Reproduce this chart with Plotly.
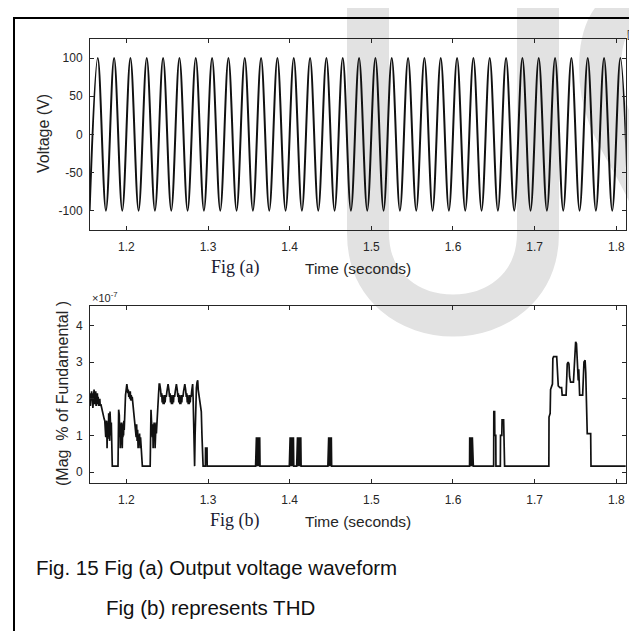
import plotly.graph_objects as go

W, H = 637, 631

# ---------------- data ----------------
# Fig (a): output voltage -- successive troughs / peaks of the waveform (s, V)
wave_t = [1.155, 1.165, 1.175, 1.185, 1.195, 1.205, 1.215, 1.225, 1.235, 1.245,
          1.255, 1.265, 1.275, 1.285, 1.295, 1.305, 1.315, 1.325, 1.335, 1.345,
          1.355, 1.365, 1.375, 1.385, 1.395, 1.405, 1.415, 1.425, 1.435, 1.445,
          1.455, 1.465, 1.475, 1.485, 1.495, 1.505, 1.515, 1.525, 1.535, 1.545,
          1.555, 1.565, 1.575, 1.585, 1.595, 1.605, 1.615, 1.625, 1.635, 1.645,
          1.655, 1.665, 1.675, 1.685, 1.695, 1.705, 1.715, 1.725, 1.735, 1.745,
          1.755, 1.765, 1.775, 1.785, 1.795, 1.805, 1.815]
wave_v = [-100, 100, -100, 100, -100, 100, -100, 100, -100, 100,
          -100, 100, -100, 100, -100, 100, -100, 100, -100, 100,
          -100, 100, -100, 100, -100, 100, -100, 100, -100, 100,
          -100, 100, -100, 100, -100, 100, -100, 100, -100, 100,
          -100, 100, -100, 100, -100, 100, -100, 100, -100, 100,
          -100, 100, -100, 100, -100, 100, -100, 100, -100, 100,
          -100, 100, -100, 100, -100, 100, -100]

# Fig (b): THD (time s, magnitude x1e-7 % of fundamental)
thd_samples = [
    (1.1550, 1.95), (1.1555, 2.15), (1.1560, 1.80), (1.1565, 2.10), (1.1570, 1.85),
    (1.1575, 2.20), (1.1580, 1.95), (1.1585, 2.15), (1.1590, 1.75), (1.1595, 2.05),
    (1.1600, 1.90), (1.1605, 2.25), (1.1610, 1.85), (1.1615, 2.15), (1.1620, 1.95),
    (1.1625, 2.20), (1.1630, 1.80), (1.1635, 2.10), (1.1640, 1.90), (1.1645, 2.15),
    (1.1650, 1.85), (1.1655, 2.05), (1.1660, 1.80), (1.1665, 2.00), (1.1670, 1.85),
    (1.1675, 2.00), (1.1680, 1.80), (1.1688, 1.85), (1.1696, 1.75), (1.1704, 1.70),
    (1.1712, 1.60), (1.1720, 1.50), (1.1728, 1.45), (1.1736, 1.40),
    (1.1740, 1.05), (1.1744, 1.35), (1.1748, 0.95), (1.1752, 1.30), (1.1756, 0.85),
    (1.1760, 1.40), (1.1764, 0.65), (1.1768, 1.20), (1.1772, 0.90), (1.1776, 1.35),
    (1.1780, 0.95), (1.1784, 1.60), (1.1788, 1.00), (1.1792, 1.45), (1.1796, 0.85),
    (1.1800, 1.65), (1.1804, 1.10), (1.1808, 1.45), (1.1812, 1.00), (1.1816, 1.35),
    (1.1820, 0.95), (1.1824, 0.50), (1.1828, 0.16),
    (1.1898, 0.16),
    (1.1902, 0.95), (1.1906, 1.70), (1.1910, 1.25), (1.1914, 1.55), (1.1918, 0.95),
    (1.1922, 1.30), (1.1926, 0.65), (1.1930, 1.20), (1.1934, 0.95), (1.1938, 1.35),
    (1.1942, 0.75), (1.1946, 1.30), (1.1950, 0.65), (1.1954, 1.10), (1.1958, 0.95),
    (1.1962, 1.35), (1.1966, 1.00), (1.1970, 1.40), (1.1974, 1.15), (1.1978, 1.45),
    (1.1984, 1.90), (1.1990, 2.10), (1.1998, 2.25), (1.2006, 2.40), (1.2012, 2.30),
    (1.2018, 2.15), (1.2024, 2.25), (1.2030, 2.05), (1.2036, 2.20), (1.2042, 2.00),
    (1.2048, 2.20), (1.2054, 1.95), (1.2060, 2.10), (1.2066, 1.95), (1.2072, 2.05),
    (1.2080, 1.85), (1.2088, 1.70), (1.2096, 1.50), (1.2104, 1.35), (1.2112, 1.15),
    (1.2120, 0.95), (1.2126, 1.30), (1.2132, 0.85), (1.2138, 1.15), (1.2144, 0.65),
    (1.2150, 1.00), (1.2156, 0.75), (1.2162, 1.05), (1.2168, 0.65), (1.2174, 0.95),
    (1.2180, 0.70), (1.2188, 0.40), (1.2196, 0.16),
    (1.2292, 0.16),
    (1.2296, 0.95), (1.2302, 1.70), (1.2308, 1.40), (1.2312, 1.20), (1.2316, 1.35),
    (1.2320, 0.95), (1.2324, 1.30), (1.2328, 0.65), (1.2332, 1.10), (1.2336, 0.95),
    (1.2340, 1.35), (1.2344, 0.85), (1.2348, 1.30), (1.2352, 0.65), (1.2356, 1.15),
    (1.2360, 0.95), (1.2364, 1.35), (1.2368, 1.05), (1.2372, 1.30), (1.2378, 1.60),
    (1.2386, 1.95), (1.2394, 2.10), (1.2402, 2.40),
    (1.2409, 2.40), (1.2419, 2.25), (1.2427, 2.05), (1.2433, 2.15), (1.2439, 1.90),
    (1.2445, 2.10), (1.2451, 1.85), (1.2457, 2.05), (1.2463, 1.85), (1.2469, 2.10),
    (1.2475, 1.90), (1.2481, 2.10), (1.2489, 2.05), (1.2497, 2.20), (1.2505, 2.30),
    (1.2511, 2.40), (1.2521, 2.25), (1.2529, 2.05), (1.2535, 2.15), (1.2541, 1.90),
    (1.2547, 2.10), (1.2553, 1.85), (1.2559, 2.05), (1.2565, 1.85), (1.2571, 2.10),
    (1.2577, 1.90), (1.2583, 2.10), (1.2591, 2.05), (1.2599, 2.20), (1.2607, 2.30),
    (1.2613, 2.40), (1.2623, 2.25), (1.2631, 2.05), (1.2637, 2.15), (1.2643, 1.90),
    (1.2649, 2.10), (1.2655, 1.85), (1.2661, 2.05), (1.2667, 1.85), (1.2673, 2.10),
    (1.2679, 1.90), (1.2685, 2.10), (1.2693, 2.05), (1.2701, 2.20), (1.2709, 2.30),
    (1.2716, 2.40), (1.2726, 2.25), (1.2734, 2.05), (1.2740, 2.15), (1.2746, 1.90),
    (1.2752, 2.10), (1.2758, 1.85), (1.2764, 2.05), (1.2770, 1.85), (1.2776, 2.10),
    (1.2782, 1.90), (1.2788, 2.10), (1.2794, 2.05), (1.2800, 2.20), (1.2806, 2.30),
    (1.2812, 2.40), (1.2818, 2.00), (1.2824, 1.20), (1.2830, 0.60), (1.2836, 0.16),
    (1.2842, 1.00), (1.2850, 2.00), (1.2858, 2.30), (1.2866, 2.45), (1.2874, 2.50),
    (1.2880, 2.25), (1.2890, 2.10), (1.2900, 1.95), (1.2910, 1.70), (1.2918, 1.65),
    (1.2926, 1.00), (1.2934, 0.40), (1.2940, 0.16), (1.2968, 0.16), (1.2970, 0.65),
    (1.2988, 0.65), (1.2990, 0.16),
    (1.3583, 0.16), (1.3585, 0.95), (1.3589, 0.16), (1.3593, 0.95), (1.3597, 0.16),
    (1.3601, 0.95), (1.3605, 0.16), (1.3609, 0.95), (1.3613, 0.16), (1.3617, 0.95),
    (1.3621, 0.16), (1.3625, 0.95), (1.3629, 0.16), (1.3633, 0.95), (1.3637, 0.16),
    (1.3996, 0.16), (1.3998, 0.95), (1.4002, 0.16), (1.4006, 0.95), (1.4010, 0.16),
    (1.4014, 0.95), (1.4018, 0.16), (1.4022, 0.95), (1.4026, 0.16), (1.4030, 0.95),
    (1.4034, 0.16), (1.4038, 0.95), (1.4042, 0.16), (1.4046, 0.95), (1.4050, 0.16),
    (1.4086, 0.16), (1.4088, 0.95), (1.4092, 0.16), (1.4096, 0.95), (1.4100, 0.16),
    (1.4104, 0.95), (1.4108, 0.16), (1.4112, 0.95), (1.4116, 0.16), (1.4120, 0.95),
    (1.4124, 0.16), (1.4128, 0.95), (1.4132, 0.16), (1.4136, 0.95), (1.4140, 0.16),
    (1.4468, 0.16), (1.4470, 0.95), (1.4474, 0.16), (1.4478, 0.95), (1.4482, 0.16),
    (1.4486, 0.95), (1.4490, 0.16), (1.4494, 0.95), (1.4498, 0.16), (1.4502, 0.95),
    (1.4506, 0.16), (1.4510, 0.95), (1.4514, 0.16),
    (1.6203, 0.16), (1.6205, 0.95), (1.6209, 0.16), (1.6213, 0.95), (1.6217, 0.16),
    (1.6221, 0.95), (1.6225, 0.16), (1.6229, 0.95), (1.6233, 0.16), (1.6237, 0.95),
    (1.6241, 0.16), (1.6245, 0.95), (1.6249, 0.16),
    (1.6498, 0.16), (1.6500, 1.65), (1.6510, 1.65), (1.6512, 1.00), (1.6524, 1.00),
    (1.6526, 0.16),
    (1.6580, 0.16), (1.6582, 1.00), (1.6598, 1.00), (1.6601, 1.42), (1.6620, 1.42),
    (1.6624, 0.80), (1.6632, 0.16),
    (1.7174, 0.16), (1.7176, 1.50), (1.7190, 1.60), (1.7195, 2.25), (1.7210, 2.35),
    (1.7218, 2.40), (1.7223, 3.10), (1.7232, 3.15), (1.7270, 3.15), (1.7280, 2.80),
    (1.7289, 2.35), (1.7310, 2.30), (1.7330, 2.30), (1.7337, 2.10), (1.7385, 2.10),
    (1.7392, 2.50), (1.7399, 2.95), (1.7410, 3.00), (1.7420, 2.95), (1.7428, 2.60),
    (1.7440, 2.45), (1.7475, 2.45), (1.7485, 2.80), (1.7495, 3.20), (1.7502, 3.55),
    (1.7512, 3.50), (1.7521, 3.10), (1.7528, 2.60), (1.7534, 2.50), (1.7540, 2.80),
    (1.7546, 2.30), (1.7551, 2.10), (1.7588, 2.10), (1.7596, 2.60), (1.7604, 3.00),
    (1.7618, 3.05), (1.7626, 2.70), (1.7634, 1.95), (1.7644, 1.05), (1.7686, 1.05),
    (1.7690, 0.16), (1.8150, 0.16),
]
thd_t = [p[0] for p in thd_samples]
thd_v = [p[1] for p in thd_samples]

x_ticks = [1.2, 1.3, 1.4, 1.5, 1.6, 1.7, 1.8]
x_ticklabels = ["1.2", "1.3", "1.4", "1.5", "1.6", "1.7", "1.8"]
v_ticks = [-100, -50, 0, 50, 100]
v_ticklabels = ["-100", "-50", "0", "50", "100"]
thd_ticks = [0, 1, 2, 3, 4]
thd_ticklabels = ["0", "1", "2", "3", "4"]

# ---------------- helpers (pixel -> paper) ----------------
def PX(x):
    return x / W


def PY(y):
    return 1 - y / H


AX = "#262626"
TICKFONT = dict(family="Liberation Sans Narrow, Arial Narrow, Liberation Sans, Arial", size=12, color=AX)
LABFONT = dict(family="Liberation Sans, Arial", size=16, color=AX)

fig = go.Figure()
fig.add_trace(go.Scatter(x=wave_t, y=wave_v, mode="lines", line=dict(color="#111111", width=2, shape="spline"),
                         xaxis="x", yaxis="y", showlegend=False, hoverinfo="skip"))
fig.add_trace(go.Scatter(x=thd_t, y=thd_v, mode="lines", line=dict(color="#111111", width=1.7),
                         xaxis="x2", yaxis="y2", showlegend=False, hoverinfo="skip"))

x_dom = [PX(82), PX(617.7)]
common_x = dict(domain=x_dom, range=[1.1555, 1.8115], tickmode="array", tickvals=x_ticks, ticktext=x_ticklabels,
                ticks="inside", ticklen=4, tickwidth=1, tickcolor=AX, mirror="allticks", showline=True,
                linecolor=AX, linewidth=1, showgrid=False, zeroline=False, tickfont=TICKFONT,
                ticklabelstandoff=6)
common_y = dict(ticks="inside", ticklen=4, tickwidth=1, tickcolor=AX, mirror="allticks", showline=True,
                linecolor=AX, linewidth=1, showgrid=False, zeroline=False, tickfont=TICKFONT,
                ticklabelstandoff=4, tickmode="array")

fig.update_layout(
    width=W, height=H, margin=dict(l=0, r=0, t=0, b=0),
    paper_bgcolor="white", plot_bgcolor="rgba(0,0,0,0)",
    xaxis=dict(anchor="y", **common_x),
    yaxis=dict(anchor="x", domain=[PY(221.7), PY(31)], range=[-125, 125],
               tickvals=v_ticks, ticktext=v_ticklabels, **common_y),
    xaxis2=dict(anchor="y2", **common_x),
    yaxis2=dict(anchor="x2", domain=[PY(475), PY(298)], range=[-0.3, 4.53],
                tickvals=thd_ticks, ticktext=thd_ticklabels, **common_y),
)

# watermark (light grey letters behind everything) and page border
WM = "#e2e2e2"
shapes = [
    dict(type="path", xref="paper", yref="paper", layer="below",
         path=f"M {PX(360)},{PY(-10)} L {PX(360)},{PY(225)} C {PX(360)},{PY(335)} {PX(530)},{PY(335)} {PX(530)},{PY(225)} L {PX(530)},{PY(-10)}",
         line=dict(color=WM, width=42)),
    dict(type="path", xref="paper", yref="paper", layer="below",
         path=f"M {PX(665)},{PY(45)} C {PX(645)},{PY(-15)} {PX(592)},{PY(-15)} {PX(592)},{PY(60)} C {PX(592)},{PY(140)} {PX(655)},{PY(160)} {PX(665)},{PY(280)}",
         line=dict(color=WM, width=42)),
    dict(type="rect", xref="paper", yref="paper", x0=PX(6), x1=PX(660), y0=PY(660), y1=PY(10),
         line=dict(color="black", width=2), fillcolor="rgba(0,0,0,0)", layer="above"),
]
fig.update_layout(shapes=shapes)

ann = []
def add_text(text, x, y, font, xanchor="center", yanchor="middle", angle=0):
    ann.append(dict(text=text, x=PX(x), y=PY(y), xref="paper", yref="paper", showarrow=False,
                    xanchor=xanchor, yanchor=yanchor, textangle=angle, font=font))

add_text("Voltage (V)", 36, 126, LABFONT, angle=-90)
add_text("(Mag  % of Fundamental )", 54, 386, LABFONT, angle=-90)
add_text("×10<sup>-7</sup>", 82, 289, dict(family="Liberation Sans, Arial", size=11, color=AX), xanchor="left")
SERIF = dict(family="Liberation Serif, Times New Roman, serif", size=18, color="#1b1b33")
TIMEF = dict(family="Liberation Sans, Arial", size=15.5, color=AX)
add_text("Fig (a)", 227, 259, SERIF)
add_text("Time (seconds)", 350, 260, TIMEF)
add_text("Fig (b)", 227, 512, SERIF)
add_text("Time (seconds)", 350, 513, TIMEF)
CAP = dict(family="Liberation Sans, Arial", size=20.5, color="#111111")
add_text("Fig. 15 Fig (a) Output voltage waveform", 26, 559, CAP, xanchor="left")
add_text("Fig (b) represents THD", 95.5, 599, CAP, xanchor="left")
add_text("[", 620, 26, dict(family="Liberation Sans, Arial", size=10, color="#333333"))
fig.update_layout(annotations=ann)

fig.write_html("out.html")
